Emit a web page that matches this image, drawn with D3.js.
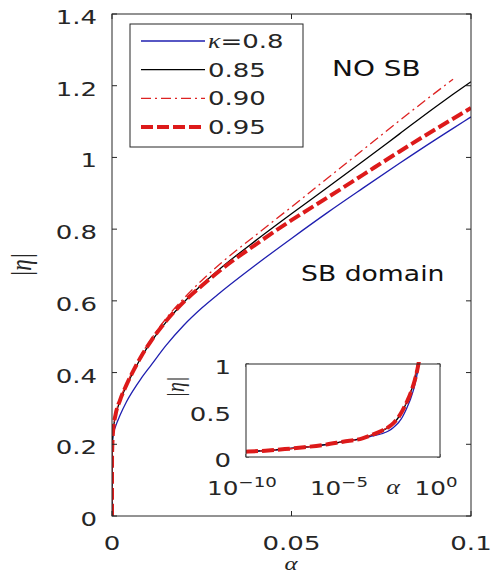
<!DOCTYPE html>
<html>
<head>
<meta charset="utf-8">
<script src="https://cdn.jsdelivr.net/npm/d3@7"></script>
<style>
  html, body { margin: 0; padding: 0; background: #fff; }
  svg { display: block; }
</style>
</head>
<body>
<div id="chart-container"></div>
<script>
// values
const alpha = [0, 1e-10, 1e-9, 1e-8, 1e-7, 1e-6, 1e-5, 1e-4, 3e-4, 0.001, 0.0022, 0.004, 0.006, 0.008,
    0.011, 0.015, 0.02, 0.025, 0.03, 0.04, 0.05, 0.06, 0.07, 0.08, 0.09, 0.095, 0.1];
const eta80 = [0, 0.057, 0.068, 0.085, 0.105, 0.13, 0.165, 0.2, 0.225, 0.25, 0.28, 0.318, 0.352, 0.382,
    0.422, 0.475, 0.532, 0.58, 0.622, 0.7, 0.774, 0.846, 0.915, 0.983, 1.049, 1.081, 1.113];
const eta85 = [0, 0.057, 0.068, 0.085, 0.105, 0.13, 0.165, 0.2, 0.235, 0.28, 0.32, 0.362, 0.403, 0.44,
    0.487, 0.54, 0.596, 0.645, 0.689, 0.768, 0.843, 0.916, 0.99, 1.065, 1.14, 1.176, 1.211];
const eta90 = [0, 0.057, 0.068, 0.085, 0.105, 0.13, 0.165, 0.2, 0.237, 0.283, 0.325, 0.367, 0.409, 0.447,
    0.495, 0.55, 0.607, 0.657, 0.702, 0.783, 0.862, 0.942, 1.022, 1.102, 1.18, 1.218, null];
const eta95 = [0, 0.057, 0.068, 0.085, 0.105, 0.13, 0.165, 0.2, 0.237, 0.283, 0.322, 0.365, 0.406, 0.443,
    0.49, 0.543, 0.597, 0.642, 0.684, 0.757, 0.825, 0.888, 0.952, 1.016, 1.078, 1.108, 1.138];
const legendLabels = ["=0.8", "0.85", "0.90", "0.95"];
const yTicks = [0, 0.2, 0.4, 0.6, 0.8, 1, 1.2, 1.4];
const xTicks = [0, 0.05, 0.1];
const insetYTicks = [0, 0.5, 1];
const insetXTicks = [1e-10, 1e-5, 1];

const width = 494, height = 582;
const SX = 1.3; // the picture is stretched sideways
const axisColor = "#262626";
const sans = "DejaVu Sans";
const serif = "Liberation Serif";

const series = [
    {values: eta80, color: "#1f1fb0", width: 1.3, dash: null},
    {values: eta85, color: "#000", width: 1.3, dash: null},
    {values: eta90, color: "#dd2222", width: 1.3, dash: "10,4,2,4"},
    {values: eta95, color: "#dd1a1a", width: 4, dash: "12,4"}
];

const svg = d3.select("#chart-container").append("svg")
    .attr("width", width).attr("height", height);

function text(x, y, str, anchor, size, family) {
    return svg.append("text")
        .attr("transform", `translate(${x},${y}) scale(${SX},1)`)
        .attr("text-anchor", anchor)
        .attr("font-family", family || sans)
        .attr("font-size", size || 20)
        .attr("fill", axisColor)
        .text(str);
}

// main axes
const x = d3.scaleLinear().domain([0, 0.1]).range([112, 471]);
const y = d3.scaleLinear().domain([0, 1.4]).range([516, 14]);

svg.append("defs").append("clipPath").attr("id", "main-clip")
    .append("rect").attr("x", 112).attr("y", 14).attr("width", 359).attr("height", 502);

const line = d3.line()
    .defined(d => d[1] !== null)
    .x(d => x(d[0])).y(d => y(d[1]))
    .curve(d3.curveMonotoneX);

const curves = svg.append("g").attr("clip-path", "url(#main-clip)");
series.forEach(s => {
    curves.append("path")
        .datum(alpha.map((a, i) => [a, s.values[i]]))
        .attr("fill", "none")
        .attr("stroke", s.color)
        .attr("stroke-width", s.width)
        .attr("stroke-dasharray", s.dash)
        .attr("d", line);
});

svg.append("rect").attr("x", 112).attr("y", 14).attr("width", 359).attr("height", 502)
    .attr("fill", "none").attr("stroke", axisColor).attr("stroke-width", 1);

const ticks = svg.append("g").attr("stroke", axisColor).attr("stroke-width", 1);
yTicks.forEach(t => {
    ticks.append("line").attr("x1", 112).attr("x2", 117).attr("y1", y(t)).attr("y2", y(t));
    ticks.append("line").attr("x1", 471).attr("x2", 466).attr("y1", y(t)).attr("y2", y(t));
    text(97, y(t) + 10, d3.format("")(t), "end");
});
xTicks.forEach(t => {
    ticks.append("line").attr("x1", x(t)).attr("x2", x(t)).attr("y1", 516).attr("y2", 511);
    ticks.append("line").attr("x1", x(t)).attr("x2", x(t)).attr("y1", 14).attr("y2", 19);
    text(x(t), 550, d3.format("")(t), "middle");
});

text(291, 570, "α", "middle", 19, serif).attr("font-style", "italic");
svg.append("text")
    .attr("transform", `translate(31,265) scale(${SX},1) rotate(-90)`)
    .attr("text-anchor", "middle")
    .attr("font-family", serif).attr("font-style", "italic").attr("font-size", 23)
    .attr("fill", axisColor)
    .text("|η|");

// annotations
text(332, 76, "NO SB", "start", 21.5).attr("fill", "#111");
text(301, 281, "SB domain", "start", 20.5).attr("fill", "#111");

// legend
const legend = svg.append("g");
legend.append("rect").attr("x", 130).attr("y", 24).attr("width", 173).attr("height", 123)
    .attr("fill", "#fff").attr("stroke", axisColor).attr("stroke-width", 1);
const rowY = d3.scalePoint().domain(d3.range(4)).range([41, 127]);
series.forEach((s, i) => {
    legend.append("line")
        .attr("x1", 141).attr("x2", 205).attr("y1", rowY(i)).attr("y2", rowY(i))
        .attr("stroke", s.color).attr("stroke-width", s.width)
        .attr("stroke-dasharray", s.dash);
    const t = text(208, rowY(i) + 7, "", "start", 20);
    if (i === 0) {
        t.append("tspan").attr("font-family", serif).attr("font-style", "italic").text("κ");
    }
    t.append("tspan").text(legendLabels[i]);
});

// inset, same curves on a log axis
const xi = d3.scaleLog().domain([1e-10, 1]).range([246, 440]);
const yi = d3.scaleLinear().domain([0, 1]).range([457, 364]);

svg.append("rect").attr("x", 246).attr("y", 364).attr("width", 194).attr("height", 93)
    .attr("fill", "#fff").attr("stroke", "none");
svg.select("defs").append("clipPath").attr("id", "inset-clip")
    .append("rect").attr("x", 246).attr("y", 362).attr("width", 194).attr("height", 95);

const lineInset = d3.line()
    .defined(d => d[1] !== null && d[0] > 0)
    .x(d => xi(d[0])).y(d => yi(d[1]))
    .curve(d3.curveMonotoneX);

const insetCurves = svg.append("g").attr("clip-path", "url(#inset-clip)");
series.forEach(s => {
    insetCurves.append("path")
        .datum(alpha.map((a, i) => [a, s.values[i]]).filter(d => d[0] > 0))
        .attr("fill", "none")
        .attr("stroke", s.color)
        .attr("stroke-width", s.width)
        .attr("stroke-dasharray", s.dash)
        .attr("d", lineInset);
});

svg.append("rect").attr("x", 246).attr("y", 364).attr("width", 194).attr("height", 93)
    .attr("fill", "none").attr("stroke", axisColor).attr("stroke-width", 1);

insetYTicks.forEach(t => {
    ticks.append("line").attr("x1", 246).attr("x2", 249).attr("y1", yi(t)).attr("y2", yi(t));
    ticks.append("line").attr("x1", 440).attr("x2", 437).attr("y1", yi(t)).attr("y2", yi(t));
    text(231, yi(t) + 10, d3.format("")(t), "end");
});
insetXTicks.forEach(t => {
    ticks.append("line").attr("x1", xi(t)).attr("x2", xi(t)).attr("y1", 457).attr("y2", 454);
    ticks.append("line").attr("x1", xi(t)).attr("x2", xi(t)).attr("y1", 364).attr("y2", 367);
    const p = Math.round(Math.log10(t));
    const lbl = text(xi(t) - 4, 495, "", "middle", 19);
    lbl.append("tspan").text("10");
    lbl.append("tspan").attr("dy", -8).attr("font-size", 14).text(p === 0 ? "0" : "\u2212" + Math.abs(p));
});
text(393, 494, "α", "middle", 20, serif).attr("font-style", "italic");
svg.append("text")
    .attr("transform", `translate(184,387) scale(${SX},1) rotate(-90)`)
    .attr("text-anchor", "middle")
    .attr("font-family", serif).attr("font-style", "italic").attr("font-size", 20)
    .attr("fill", axisColor)
    .text("|η|");
</script>
</body>
</html>
